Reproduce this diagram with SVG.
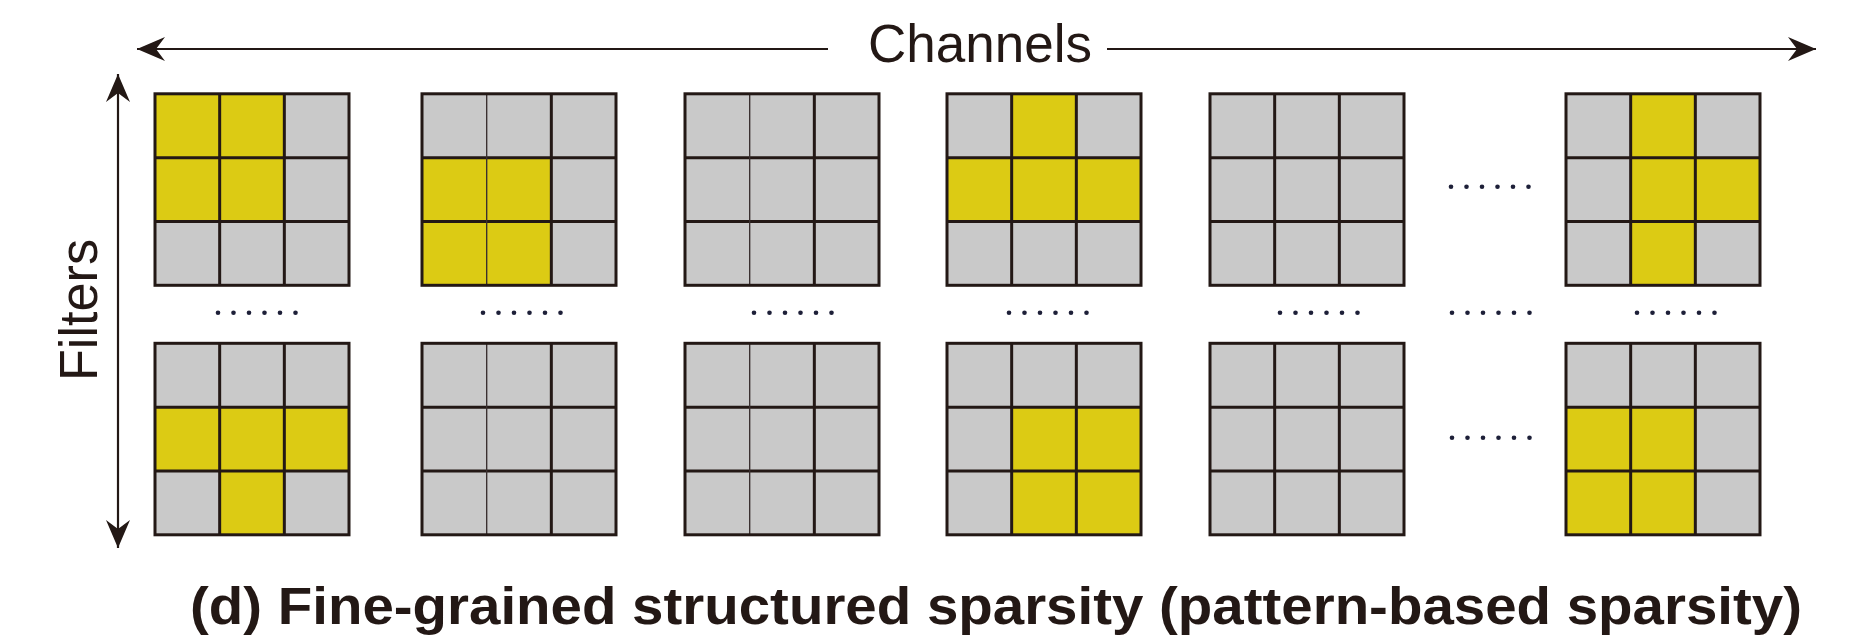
<svg xmlns="http://www.w3.org/2000/svg" width="1854" height="635" viewBox="0 0 1854 635">
  <style>
    .g { fill: #c9c9c9; }
    .y { fill: #dccb14; }
    .frame { fill: none; stroke: #231815; stroke-width: 3; }
    .div { fill: none; stroke: #231815; stroke-width: 3; }
    .thin { fill: none; stroke: #3a3030; stroke-width: 1.4; }
    .axis { fill: none; stroke: #231815; stroke-width: 2.2; }
    .dot { fill: #1d1f38; }
    .lbl { font-family: "Liberation Sans", Arial, sans-serif; fill: #231815; }
    .cap { font-family: "Liberation Sans", Arial, sans-serif; font-weight: bold; fill: #231815; }
  </style>
  <defs>
    <marker id="head" viewBox="-30 -14 32 28" markerWidth="32" markerHeight="28" refX="0" refY="0" orient="auto" markerUnits="userSpaceOnUse">
      <path d="M0,0 L-28,-12 L-19,0 L-28,12 Z" fill="#231815"/>
    </marker>
    <!-- 3x3 kernel: cell size 64.67 x 63.83 -->
    <path id="gridlines" d="M0,63.83 H194 M0,127.67 H194 M129.33,0 V191.5"/>
    <path id="col1" d="M64.67,0 V191.5"/>
    <!-- ellipsis: six dots, 15.5 px apart -->
    <g id="ellipsis">
      <circle class="dot" cx="0" cy="0" r="2.3"/><circle class="dot" cx="15.5" cy="0" r="2.3"/><circle class="dot" cx="31" cy="0" r="2.3"/>
      <circle class="dot" cx="46.5" cy="0" r="2.3"/><circle class="dot" cx="62" cy="0" r="2.3"/><circle class="dot" cx="77.5" cy="0" r="2.3"/>
    </g>
  </defs>

  <!-- axes -->
  <g id="connectors">
    <line class="axis" x1="828" y1="49" x2="137" y2="49" marker-end="url(#head)"/>
    <line class="axis" x1="1107" y1="49" x2="1816" y2="49" marker-end="url(#head)"/>
    <line class="axis" x1="118" y1="300" x2="118" y2="74" marker-end="url(#head)"/>
    <line class="axis" x1="118" y1="300" x2="118" y2="548" marker-end="url(#head)"/>
  </g>

  <g id="label-channels">
    <text class="lbl" x="868" y="61.5" font-size="54" textLength="224" lengthAdjust="spacingAndGlyphs">Channels</text>
  </g>
  <g id="label-filters">
    <text class="lbl" transform="translate(96.5,310) rotate(-90)" x="0" y="0" font-size="53" text-anchor="middle" textLength="142" lengthAdjust="spacingAndGlyphs">Filters</text>
  </g>

  <!-- top row of kernels -->
  <g id="k-top-1" transform="translate(155,93.8)">
    <rect class="y" x="0" y="0" width="64.67" height="63.83"/><rect class="y" x="64.67" y="0" width="64.67" height="63.83"/><rect class="g" x="129.33" y="0" width="64.67" height="63.83"/>
    <rect class="y" x="0" y="63.83" width="64.67" height="63.83"/><rect class="y" x="64.67" y="63.83" width="64.67" height="63.83"/><rect class="g" x="129.33" y="63.83" width="64.67" height="63.83"/>
    <rect class="g" x="0" y="127.67" width="64.67" height="63.83"/><rect class="g" x="64.67" y="127.67" width="64.67" height="63.83"/><rect class="g" x="129.33" y="127.67" width="64.67" height="63.83"/>
    <use href="#gridlines" class="div"/><use href="#col1" class="div"/>
    <rect class="frame" x="0" y="0" width="194" height="191.5"/>
  </g>
  <g id="k-top-2" transform="translate(422,93.8)">
    <rect class="g" x="0" y="0" width="64.67" height="63.83"/><rect class="g" x="64.67" y="0" width="64.67" height="63.83"/><rect class="g" x="129.33" y="0" width="64.67" height="63.83"/>
    <rect class="y" x="0" y="63.83" width="64.67" height="63.83"/><rect class="y" x="64.67" y="63.83" width="64.67" height="63.83"/><rect class="g" x="129.33" y="63.83" width="64.67" height="63.83"/>
    <rect class="y" x="0" y="127.67" width="64.67" height="63.83"/><rect class="y" x="64.67" y="127.67" width="64.67" height="63.83"/><rect class="g" x="129.33" y="127.67" width="64.67" height="63.83"/>
    <use href="#gridlines" class="div"/><use href="#col1" class="thin"/>
    <rect class="frame" x="0" y="0" width="194" height="191.5"/>
  </g>
  <g id="k-top-3" transform="translate(685,93.8)">
    <rect class="g" x="0" y="0" width="194" height="191.5"/>
    <use href="#gridlines" class="div"/><use href="#col1" class="thin"/>
    <rect class="frame" x="0" y="0" width="194" height="191.5"/>
  </g>
  <g id="k-top-4" transform="translate(947,93.8)">
    <rect class="g" x="0" y="0" width="64.67" height="63.83"/><rect class="y" x="64.67" y="0" width="64.67" height="63.83"/><rect class="g" x="129.33" y="0" width="64.67" height="63.83"/>
    <rect class="y" x="0" y="63.83" width="64.67" height="63.83"/><rect class="y" x="64.67" y="63.83" width="64.67" height="63.83"/><rect class="y" x="129.33" y="63.83" width="64.67" height="63.83"/>
    <rect class="g" x="0" y="127.67" width="64.67" height="63.83"/><rect class="g" x="64.67" y="127.67" width="64.67" height="63.83"/><rect class="g" x="129.33" y="127.67" width="64.67" height="63.83"/>
    <use href="#gridlines" class="div"/><use href="#col1" class="div"/>
    <rect class="frame" x="0" y="0" width="194" height="191.5"/>
  </g>
  <g id="k-top-5" transform="translate(1210,93.8)">
    <rect class="g" x="0" y="0" width="194" height="191.5"/>
    <use href="#gridlines" class="div"/><use href="#col1" class="div"/>
    <rect class="frame" x="0" y="0" width="194" height="191.5"/>
  </g>
  <g id="k-top-6" transform="translate(1566,93.8)">
    <rect class="g" x="0" y="0" width="64.67" height="63.83"/><rect class="y" x="64.67" y="0" width="64.67" height="63.83"/><rect class="g" x="129.33" y="0" width="64.67" height="63.83"/>
    <rect class="g" x="0" y="63.83" width="64.67" height="63.83"/><rect class="y" x="64.67" y="63.83" width="64.67" height="63.83"/><rect class="y" x="129.33" y="63.83" width="64.67" height="63.83"/>
    <rect class="g" x="0" y="127.67" width="64.67" height="63.83"/><rect class="y" x="64.67" y="127.67" width="64.67" height="63.83"/><rect class="g" x="129.33" y="127.67" width="64.67" height="63.83"/>
    <use href="#gridlines" class="div"/><use href="#col1" class="div"/>
    <rect class="frame" x="0" y="0" width="194" height="191.5"/>
  </g>

  <!-- bottom row of kernels -->
  <g id="k-bot-1" transform="translate(155,343.3)">
    <rect class="g" x="0" y="0" width="64.67" height="63.83"/><rect class="g" x="64.67" y="0" width="64.67" height="63.83"/><rect class="g" x="129.33" y="0" width="64.67" height="63.83"/>
    <rect class="y" x="0" y="63.83" width="64.67" height="63.83"/><rect class="y" x="64.67" y="63.83" width="64.67" height="63.83"/><rect class="y" x="129.33" y="63.83" width="64.67" height="63.83"/>
    <rect class="g" x="0" y="127.67" width="64.67" height="63.83"/><rect class="y" x="64.67" y="127.67" width="64.67" height="63.83"/><rect class="g" x="129.33" y="127.67" width="64.67" height="63.83"/>
    <use href="#gridlines" class="div"/><use href="#col1" class="div"/>
    <rect class="frame" x="0" y="0" width="194" height="191.5"/>
  </g>
  <g id="k-bot-2" transform="translate(422,343.3)">
    <rect class="g" x="0" y="0" width="194" height="191.5"/>
    <use href="#gridlines" class="div"/><use href="#col1" class="thin"/>
    <rect class="frame" x="0" y="0" width="194" height="191.5"/>
  </g>
  <g id="k-bot-3" transform="translate(685,343.3)">
    <rect class="g" x="0" y="0" width="194" height="191.5"/>
    <use href="#gridlines" class="div"/><use href="#col1" class="thin"/>
    <rect class="frame" x="0" y="0" width="194" height="191.5"/>
  </g>
  <g id="k-bot-4" transform="translate(947,343.3)">
    <rect class="g" x="0" y="0" width="64.67" height="63.83"/><rect class="g" x="64.67" y="0" width="64.67" height="63.83"/><rect class="g" x="129.33" y="0" width="64.67" height="63.83"/>
    <rect class="g" x="0" y="63.83" width="64.67" height="63.83"/><rect class="y" x="64.67" y="63.83" width="64.67" height="63.83"/><rect class="y" x="129.33" y="63.83" width="64.67" height="63.83"/>
    <rect class="g" x="0" y="127.67" width="64.67" height="63.83"/><rect class="y" x="64.67" y="127.67" width="64.67" height="63.83"/><rect class="y" x="129.33" y="127.67" width="64.67" height="63.83"/>
    <use href="#gridlines" class="div"/><use href="#col1" class="div"/>
    <rect class="frame" x="0" y="0" width="194" height="191.5"/>
  </g>
  <g id="k-bot-5" transform="translate(1210,343.3)">
    <rect class="g" x="0" y="0" width="194" height="191.5"/>
    <use href="#gridlines" class="div"/><use href="#col1" class="div"/>
    <rect class="frame" x="0" y="0" width="194" height="191.5"/>
  </g>
  <g id="k-bot-6" transform="translate(1566,343.3)">
    <rect class="g" x="0" y="0" width="64.67" height="63.83"/><rect class="g" x="64.67" y="0" width="64.67" height="63.83"/><rect class="g" x="129.33" y="0" width="64.67" height="63.83"/>
    <rect class="y" x="0" y="63.83" width="64.67" height="63.83"/><rect class="y" x="64.67" y="63.83" width="64.67" height="63.83"/><rect class="g" x="129.33" y="63.83" width="64.67" height="63.83"/>
    <rect class="y" x="0" y="127.67" width="64.67" height="63.83"/><rect class="y" x="64.67" y="127.67" width="64.67" height="63.83"/><rect class="g" x="129.33" y="127.67" width="64.67" height="63.83"/>
    <use href="#gridlines" class="div"/><use href="#col1" class="div"/>
    <rect class="frame" x="0" y="0" width="194" height="191.5"/>
  </g>

  <g id="ellipses">
    <use href="#ellipsis" x="1451" y="186.7"/>
    <use href="#ellipsis" x="218" y="312.7"/>
    <use href="#ellipsis" x="483" y="312.7"/>
    <use href="#ellipsis" x="754" y="312.7"/>
    <use href="#ellipsis" x="1009" y="312.7"/>
    <use href="#ellipsis" x="1280" y="312.7"/>
    <use href="#ellipsis" x="1452" y="312.7"/>
    <use href="#ellipsis" x="1637" y="312.7"/>
    <use href="#ellipsis" x="1452" y="437.7"/>
  </g>

  <g id="caption">
    <text class="cap" x="190" y="623.5" font-size="51" textLength="1612" lengthAdjust="spacingAndGlyphs">(d) Fine-grained structured sparsity (pattern-based sparsity)</text>
  </g>
</svg>
